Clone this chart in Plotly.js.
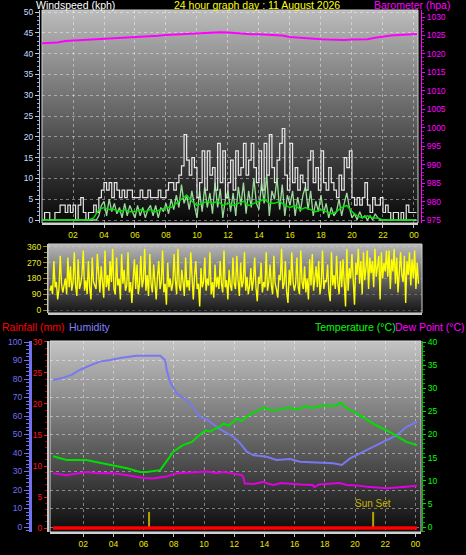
<!DOCTYPE html>
<html>
<head>
<meta charset="utf-8">
<script src="https://cdn.plot.ly/plotly-3.0.1.min.js"></script>
<style>html,body{margin:0;padding:0;background:#000;}#chart{width:466px;height:555px;}</style>
</head>
<body>
<div id="chart"></div>
<script>
// ---------- DATA ----------
const hourTickVals = [2,4,6,8,10,12,14,16,18,20,22,24];
const hourTickText = ['02','04','06','08','10','12','14','16','18','20','22','00'];

// wind, 10-minute samples from 00:00
const windStepHours = 1/6;
const windGust = [
  0,1.8,1.8,0,0,1.8,
  1.8,3.6,3.6,1.8,3.6,1.8,
  3.6,0,3.6,5.4,1.8,0,
  1.8,1.8,3.6,1.8,5.4,7.2,
  9,7.2,9,5.4,9,7.2,
  5.4,7.2,5.4,7.2,7.2,5.4,
  5.4,5.4,7.2,5.4,5.4,7.2,
  5.4,5.4,5.4,7.2,5.4,5.4,
  7.2,9,9,7.2,9,10.8,
  13,20.5,14.4,10.8,15,12.6,
  5.4,9,16.6,7.2,16.6,10.8,
  12.6,7.2,18.4,9,16.6,5.4,
  9,14.4,7.2,16.6,10.8,12.6,
  18.4,10.8,14.4,18.4,12.6,9,
  16.6,7.2,18.4,10.8,20.5,12.6,
  9,14.4,18.4,22,10.8,7.2,
  18.4,9,12.6,7.2,10.8,9,
  7.2,14.4,16.6,9,12.6,7.2,
  16.6,9,7.2,12.6,9,7.2,
  5.4,10.8,7.2,15,12.6,16.6,
  5.4,3.6,5.4,3.6,5.4,9,
  3.6,1.8,5.4,3.6,3.6,5.4,
  1.8,3.6,1.8,0,1.8,1.8,
  0,1.8,0,3.6,1.8,1.8,
  1.8,1.8
];
const windSpeed = [
  0,0,0,0,0,0,
  0,0,0,0,0,0,
  0,0,0,0,0,0,
  0,0,0,0,1,3.5,
  4.5,1,5,2,4,1.5,
  3,0.5,4,1,3.5,2,
  0.5,3.5,1,3,0.5,2.5,
  3.5,1,3.5,0.5,3,2,
  4,1.5,5,2.5,6,3,
  8.5,4,6,2.5,7,3.5,
  0.5,7,2,8,3,6.5,
  1.5,9,3,7.5,0.5,5,
  7,2,6.5,1,8,3.5,
  9,1.5,7,3,10,4,
  2.5,9,4,11,1,7,
  5,10,2.5,8.5,1,6,
  3.5,7,1,5.5,2,6,
  8,2.5,7,1,4.5,2,
  6,1.5,4,0.5,3,1,
  2,5,1,4,6.5,3,
  0.5,1.5,0,2,0.5,1,
  0,1,0,1.5,0.5,0,
  0,0,0,0,0,0,
  0,0,0,0,0,0,
  0,0
];
// 20-minute average wind
const avgStepHours = 1/3;
const windAvg = [
  0,0,0, 0,0,0, 0,0,0, 0,0.5,2.5,
  3,2.5,2.5, 2,2.5,2, 2,2.5,2, 2.5,2,2.5,
  3,3,4, 5,6,4.5, 3.5,4,4.5, 4,4.5,3.5,
  4,3.5,4, 4.5,3.5,4, 4.5,5,4, 4,4.5,3.5,
  3,3.5,2.5, 3,2.5,2, 2.5,2,1.5, 2,3,3.5,
  2,1,0.5, 1,0.5,0.5, 0,0,0, 0,0,0,
  0
];
// barometer, 30-minute samples
const baroHours = [0,0.5,1,1.5,2,2.5,3,3.5,4,4.5,5,5.5,6,6.5,7,7.5,8,8.5,9,9.5,10,10.5,11,11.5,12,12.5,13,13.5,14,14.5,15,15.5,16,16.5,17,17.5,18,18.5,19,19.5,20,20.5,21,21.5,22,22.5,23,23.5,24,24.2];
const baroVals = [1022.9,1022.9,1023.1,1023.5,1023.6,1023.8,1023.9,1024.1,1024.2,1024.3,1024.3,1024.4,1024.5,1024.6,1024.8,1024.9,1025.1,1025.2,1025.5,1025.6,1025.6,1025.7,1025.8,1025.9,1025.8,1025.6,1025.4,1025.3,1025.3,1025.2,1025.1,1025.0,1024.6,1024.4,1024.3,1024.2,1024.0,1023.9,1023.8,1023.8,1023.9,1023.9,1024.0,1024.4,1024.8,1025.0,1025.1,1025.2,1025.4,1025.4];

// wind direction, 5-minute samples
const dirStepHours = 1/12;
const windDir = [
  110,140,90,280,130,160,60,120,310,150,100,140,
  180,90,300,130,250,110,160,330,140,80,290,120,
  150,200,340,110,170,90,280,130,60,300,160,140,
  120,320,180,100,250,150,70,340,130,200,110,280,
  160,350,120,90,300,140,180,60,320,150,230,110,
  140,330,100,160,40,180,290,120,260,90,150,310,
  130,170,350,110,200,80,320,150,100,260,140,60,
  190,280,120,160,340,100,150,30,270,130,180,110,
  150,320,170,90,350,140,110,230,160,80,300,130,
  170,110,330,140,60,200,280,120,150,20,240,130,
  160,300,110,180,140,330,90,160,70,260,130,190,
  120,280,150,100,340,130,170,60,230,140,110,300,
  150,120,310,170,80,270,130,160,330,110,190,90,
  140,240,110,170,300,130,50,190,150,270,100,160,
  130,330,110,160,260,140,90,310,150,120,70,200,
  170,350,120,150,280,100,40,230,140,330,160,110,
  150,300,130,90,340,160,120,250,100,180,60,290,
  140,320,110,180,250,130,280,90,150,340,120,170,
  160,260,100,50,330,140,200,120,310,150,90,280,
  130,290,160,20,350,110,240,180,320,140,30,270,
  200,350,150,280,90,330,170,240,340,120,300,210,
  280,130,350,190,250,310,60,330,180,270,220,340,
  190,340,120,290,220,350,150,300,100,260,330,200,
  160,310,40,280,200,330,140,290,180,340,120,270,
  150
];
const dirTickVals = [0,90,180,270,360];
const dirTickText = ['0','90','180','270','360'];
const compassText = ['N','E','S','W','N'];

// humidity (%)
const humHours = [0,0.6,1.24,1.8,2.5,3.1,3.77,4.55,5.54,7.09,7.42,7.53,7.75,8.19,8.63,9.07,9.73,10.3,10.95,11.17,11.94,12.4,12.83,13.26,14.15,14.8,15.7,16.36,17.24,18.56,19.12,19.67,20.33,21,21.87,22.76,23.42,24.1];
const humVals  = [79.5,80.5,82.2,85,87.5,89.4,90.3,91.5,92.6,92.6,90.3,85,78.5,72.3,69.7,66.9,59.6,57.5,53.4,52.4,48.8,45.2,40.7,38.9,38,36.2,36.8,35.3,34.8,34.4,33.5,37.1,39.8,42.5,46.1,49.7,54.2,56.9];
// temperature (°C)
const tempHours = [0,0.9,2.2,3.8,4.9,5.76,6.2,7.1,7.5,7.97,8.6,9.2,9.7,10.1,10.4,10.7,11.06,11.3,11.6,11.94,12.2,12.5,12.8,13.2,13.7,14.0,14.4,14.8,15.25,15.7,16.0,16.4,16.8,17.2,17.5,18.0,18.56,19.1,19.3,20.3,21.4,22.5,23.4,24.1];
const tempVals  = [15.3,14.5,14.5,13.4,12.7,11.9,11.9,12.3,14.1,16.3,17.7,18.4,19.9,20.9,20.6,21.2,21.7,22.4,21.9,22.7,23.4,22.9,23.8,24.6,25.3,25.8,25.3,25.2,25.6,25.9,25.4,25.6,26.2,25.7,26.0,26.3,26.1,26.8,26.0,24.2,22.0,20.2,18.4,17.7];
// dew point (°C)
const dewHours = [0,0.9,1.5,2.2,3.0,3.8,4.5,5.3,6.0,6.6,7.5,8.2,9.0,9.7,10.2,10.8,11.3,11.9,12.3,12.5,12.6,12.7,13.3,13.9,14.2,14.6,15.1,15.7,16.4,17.2,17.3,17.6,18.6,19.0,19.45,20.1,20.8,21.4,22.1,23.0,24.1];
const dewVals  = [11.6,11.2,11.5,11.9,11.6,11.7,11.4,10.9,10.6,10.5,10.9,11.6,11.7,11.8,12.0,11.7,11.9,11.6,11.3,11.2,10.8,9.4,9.3,9.8,9.4,9.1,9.5,9.3,9.2,9.1,8.6,9.2,9.4,9.5,9.1,9.0,8.7,8.6,8.4,8.6,8.9];
// rainfall (mm)
const rainHours = [0,24.1];
const rainVals  = [0,0];
// sun events (hour of day)
const sunriseHour = 6.36;
const sunsetHour = 21.2;
const sunMarkHeight = 2.6; // mm-axis height of the sun marker

// ---------- HELPERS ----------
const W = 466, H = 555;
const px = x => x / W;
const py = y => 1 - y / H;
const times = (arr, step) => arr.map((_, i) => i * step);
function grad(top, bottom) {
  const svg = "<svg xmlns='http://www.w3.org/2000/svg' width='10' height='100' preserveAspectRatio='none'><defs><linearGradient id='g' x1='0' y1='0' x2='0' y2='1'><stop offset='0' stop-color='" + top + "'/><stop offset='1' stop-color='" + bottom + "'/></linearGradient></defs><rect width='10' height='100' fill='url(#g)'/></svg>";
  return 'data:image/svg+xml;charset=utf-8,' + encodeURIComponent(svg);
}
function bgImage(x0, y0, x1, y1, top, bottom) {
  return {source: grad(top, bottom), xref: 'paper', yref: 'paper', x: px(x0), y: py(y0),
    sizex: px(x1) - px(x0), sizey: py(y0) - py(y1), sizing: 'stretch', xanchor: 'left', yanchor: 'top', layer: 'below'};
}
const FONT = 'Liberation Sans, Arial, sans-serif';
const GRID = 'rgba(255,255,255,0.42)';

// ---------- TRACES ----------
const traces = [
  {x: times(windGust, windStepHours), y: windGust, xaxis: 'x', yaxis: 'y', mode: 'lines', line: {color: 'rgba(240,240,240,0.95)', width: 1.2, shape: 'hv'}, hoverinfo: 'skip'},
  {x: times(windSpeed, windStepHours), y: windSpeed, xaxis: 'x', yaxis: 'y', mode: 'lines', line: {color: 'rgba(170,240,170,0.9)', width: 1.3}, hoverinfo: 'skip'},
  {x: times(windAvg, avgStepHours), y: windAvg, xaxis: 'x', yaxis: 'y', mode: 'lines', line: {color: '#00e000', width: 1.5}, hoverinfo: 'skip'},
  {x: baroHours, y: baroVals, xaxis: 'x', yaxis: 'y2', mode: 'lines', line: {color: '#ff00ff', width: 2}, hoverinfo: 'skip'},
  {x: times(windDir, dirStepHours), y: windDir, xaxis: 'x2', yaxis: 'y3', mode: 'lines', line: {color: '#ffff00', width: 1.4}, hoverinfo: 'skip'},
  {x: humHours, y: humVals, xaxis: 'x3', yaxis: 'y5', mode: 'lines', line: {color: '#7878f0', width: 2}, hoverinfo: 'skip'},
  {x: tempHours, y: tempVals, xaxis: 'x3', yaxis: 'y7', mode: 'lines', line: {color: '#00e000', width: 2}, hoverinfo: 'skip'},
  {x: dewHours, y: dewVals, xaxis: 'x3', yaxis: 'y7', mode: 'lines', line: {color: '#e000e0', width: 2}, hoverinfo: 'skip'},
  {x: [sunriseHour, sunriseHour], y: [0, sunMarkHeight], xaxis: 'x3', yaxis: 'y6', mode: 'lines', line: {color: '#b8a000', width: 2}, hoverinfo: 'skip'},
  {x: [sunsetHour, sunsetHour], y: [0, sunMarkHeight], xaxis: 'x3', yaxis: 'y6', mode: 'lines', line: {color: '#b8a000', width: 2}, hoverinfo: 'skip'},
  {x: rainHours, y: rainVals, xaxis: 'x3', yaxis: 'y6', mode: 'lines', line: {color: '#ff0000', width: 3.5}, hoverinfo: 'skip'}
];

// ---------- LAYOUT ----------
const tickFontSmall = (c) => ({family: FONT, size: 8.5, color: c});
const titleFont = (c) => ({family: FONT, size: 10.5, color: c});
const layout = {
  width: W, height: H,
  margin: {l: 0, r: 0, t: 0, b: 0},
  paper_bgcolor: '#000', plot_bgcolor: 'rgba(0,0,0,0)',
  showlegend: false,
  font: {family: FONT},
  // top panel
  xaxis: {domain: [px(42), px(418)], range: [0, 24.26], anchor: 'y', tickvals: hourTickVals, ticktext: hourTickText,
    tickfont: tickFontSmall('#e8e800'), ticks: 'outside', ticklen: 3, tickcolor: '#c0c0c0',
    showgrid: true, gridcolor: GRID, griddash: 'dot', gridwidth: 1, zeroline: false,
    showline: true, linecolor: '#d0d0d0', linewidth: 2, fixedrange: true},
  yaxis: {domain: [py(223), py(10)], range: [-0.72, 50.48], anchor: 'free', position: px(39),
    tickvals: [0,5,10,15,20,25,30,35,40,45,50], tickfont: tickFontSmall('#c8dcff'),
    ticks: 'outside', ticklen: 4, tickcolor: '#b8cce8', showline: true, linecolor: '#a8bcdc', linewidth: 1,
    minor: {ticks: 'outside', ticklen: 2, dtick: 1, tickcolor: '#98acd0', showgrid: false},
    showgrid: true, gridcolor: GRID, griddash: 'dot', zeroline: false, fixedrange: true},
  yaxis2: {overlaying: 'y', side: 'right', anchor: 'free', position: px(421), range: [974.19, 1031.9],
    tickvals: [975,980,985,990,995,1000,1005,1010,1015,1020,1025,1030], tickfont: tickFontSmall('#ff00ff'),
    ticks: 'outside', ticklen: 3, tickcolor: '#ff00ff', showline: true, linecolor: '#ff00ff', linewidth: 1,
    minor: {ticks: 'outside', ticklen: 2, dtick: 1, tickcolor: '#c000c0'},
    showgrid: false, zeroline: false, fixedrange: true},
  // direction panel
  xaxis2: {domain: [px(48), px(422)], range: [-0.13, 24.23], anchor: 'y3', showticklabels: false, ticks: '',
    showgrid: false, zeroline: false, showline: true, linecolor: '#c8c8c8', linewidth: 2, fixedrange: true},
  yaxis3: {domain: [py(313), py(244)], range: [-17, 377], anchor: 'free', position: px(47),
    tickvals: dirTickVals, ticktext: dirTickText, tickfont: tickFontSmall('#e8e830'),
    ticks: 'outside', ticklen: 4, tickcolor: '#a09000', showline: true, linecolor: '#c8c8c8', linewidth: 1,
    minor: {ticks: 'outside', ticklen: 3, dtick: 30, tickcolor: '#a09000'},
    showgrid: true, gridcolor: 'rgba(255,255,255,0.22)', griddash: 'dot', zeroline: false, fixedrange: true},
  yaxis4: {overlaying: 'y3', side: 'right', anchor: 'free', position: px(422), range: [-17, 377],
    tickvals: dirTickVals, ticktext: compassText, tickfont: {family: FONT, size: 12, color: '#ffff00'},
    ticks: '', ticklabelstandoff: 13, showline: false, showgrid: false, zeroline: false, fixedrange: true},
  // bottom panel
  xaxis3: {domain: [px(50), px(421)], range: [-0.2, 24.37], anchor: 'y5', tickvals: hourTickVals, ticktext: hourTickText,
    tickfont: tickFontSmall('#e8e800'), ticks: 'outside', ticklen: 3, tickcolor: '#c0c0c0',
    showgrid: true, gridcolor: GRID, griddash: 'dot', zeroline: false,
    showline: true, linecolor: '#d0d0d0', linewidth: 2, fixedrange: true},
  yaxis5: {domain: [py(532), py(341)], range: [-2.7, 100.54], anchor: 'free', position: px(30),
    tickvals: [0,10,20,30,40,50,60,70,80,90,100], tickfont: tickFontSmall('#7070f0'),
    ticks: 'outside', ticklen: 5, tickcolor: '#7070f0', showline: true, linecolor: '#7070f0', linewidth: 3,
    minor: {ticks: 'outside', ticklen: 3, dtick: 2, tickcolor: '#7070f0', showgrid: false},
    showgrid: true, gridcolor: GRID, griddash: 'dot', zeroline: false, fixedrange: true},
  yaxis6: {overlaying: 'y5', anchor: 'free', position: px(48), range: [-0.645, 30.16],
    tickvals: [0,5,10,15,20,25,30], tickfont: tickFontSmall('#ff1010'),
    ticks: 'outside', ticklen: 3, tickcolor: '#ff1010', showline: true, linecolor: '#c8c8c8', linewidth: 2,
    minor: {ticks: 'outside', ticklen: 2, dtick: 1, tickcolor: '#c00000'},
    showgrid: false, zeroline: false, fixedrange: true},
  yaxis7: {overlaying: 'y5', side: 'right', anchor: 'free', position: px(422), range: [-1.08, 40.22],
    tickvals: [0,5,10,15,20,25,30,35,40], tickfont: tickFontSmall('#00ff00'),
    ticks: 'outside', ticklen: 3, tickcolor: '#00e000', showline: true, linecolor: '#00c000', linewidth: 1,
    minor: {ticks: 'outside', ticklen: 2, dtick: 1, tickcolor: '#00b000'},
    showgrid: false, zeroline: false, fixedrange: true},
  images: [
    bgImage(42, 10, 418, 223, '#bcbcbc', '#060606'),
    bgImage(48, 244, 422, 313, '#b8b8b8', '#141414'),
    bgImage(50, 341, 421, 532, '#c4c4c4', '#0c0c0c')
  ],
  shapes: [
    {type: 'rect', xref: 'paper', yref: 'paper', x0: px(42), x1: px(418), y0: py(223), y1: py(10), line: {color: '#d0d0d0', width: 1}, layer: 'below'},
    {type: 'rect', xref: 'paper', yref: 'paper', x0: px(48), x1: px(422), y0: py(313), y1: py(244), line: {color: '#d0d0d0', width: 1}, layer: 'below'},
    {type: 'rect', xref: 'paper', yref: 'paper', x0: px(50), x1: px(421), y0: py(532), y1: py(341), line: {color: '#d8d8d8', width: 1}, layer: 'below'}
  ],
  annotations: [
    {text: 'Windspeed (kph)', xref: 'paper', yref: 'paper', x: px(34), y: py(5), xanchor: 'left', yanchor: 'middle', showarrow: false, font: titleFont('#ffffff')},
    {text: '24 hour graph day : 11 August 2026', xref: 'paper', yref: 'paper', x: px(257), y: py(5), xanchor: 'center', yanchor: 'middle', showarrow: false, font: titleFont('#ffff00')},
    {text: 'Barometer (hpa)', xref: 'paper', yref: 'paper', x: px(372), y: py(5), xanchor: 'left', yanchor: 'middle', showarrow: false, font: titleFont('#ff00ff')},
    {text: 'Rainfall (mm)', xref: 'paper', yref: 'paper', x: px(0), y: py(327), xanchor: 'left', yanchor: 'middle', showarrow: false, font: titleFont('#ff0000')},
    {text: 'Humidity', xref: 'paper', yref: 'paper', x: px(67), y: py(327), xanchor: 'left', yanchor: 'middle', showarrow: false, font: titleFont('#8080ff')},
    {text: 'Temperature (°C)', xref: 'paper', yref: 'paper', x: px(313), y: py(327), xanchor: 'left', yanchor: 'middle', showarrow: false, font: titleFont('#00ff00')},
    {text: 'Dew Point (°C)', xref: 'paper', yref: 'paper', x: px(393), y: py(327), xanchor: 'left', yanchor: 'middle', showarrow: false, font: titleFont('#ff00ff')},
    {text: 'Sun Set', xref: 'x3', yref: 'y6', x: sunsetHour, y: sunMarkHeight, xanchor: 'center', yanchor: 'bottom', yshift: 1, showarrow: false, font: {family: FONT, size: 10, color: '#c8b400'}}
  ]
};

Plotly.newPlot('chart', traces, layout, {staticPlot: true, displayModeBar: false});
</script>
</body>
</html>
